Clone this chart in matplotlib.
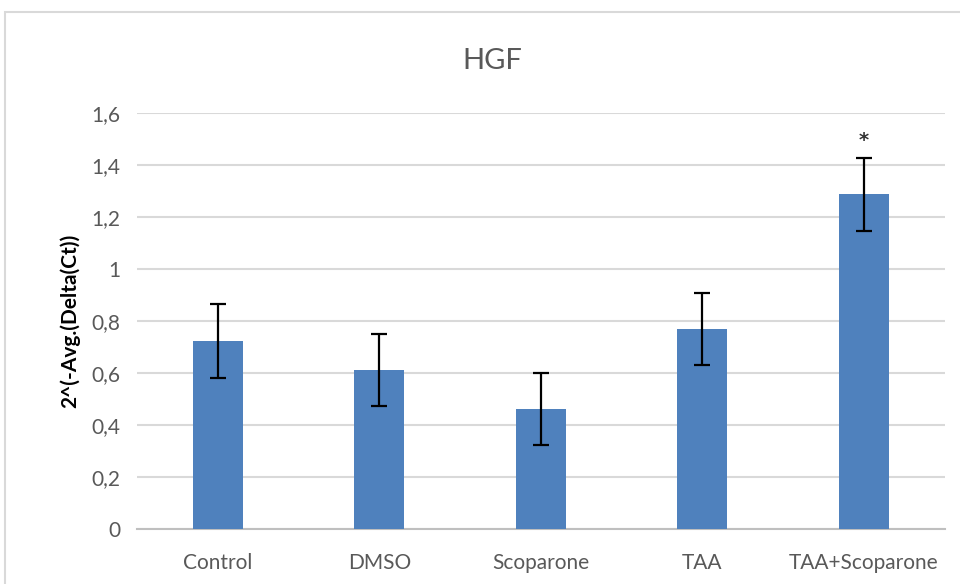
import matplotlib.pyplot as plt
from matplotlib.patches import Rectangle
from matplotlib.ticker import FuncFormatter

# data
categories = ["Control", "DMSO", "Scoparone", "TAA", "TAA+Scoparone"]
means = [0.723, 0.612, 0.462, 0.769, 1.287]
errors = [0.141, 0.139, 0.138, 0.139, 0.139]
significant = [False, False, False, False, True]
y_ticks = [0, 0.2, 0.4, 0.6, 0.8, 1.0, 1.2, 1.4, 1.6]

BAR_COLOR = "#4F81BD"
TEXT_COLOR = "#595959"
GRID_COLOR = "#D9D9D9"

plt.rcParams["font.family"] = ["Lato", "DejaVu Sans"]

fig = plt.figure(figsize=(9.6, 5.84), dpi=100)
ax = fig.add_axes([0.1427, 0.0942, 0.8413, 0.7123])

x = list(range(len(categories)))
ax.bar(x, means, width=0.31, color=BAR_COLOR, zorder=3)
ax.errorbar(x, means, yerr=errors, fmt="none", ecolor="black",
            elinewidth=1.6, capsize=6, capthick=1.6, zorder=4)

for xi, m, e, sig in zip(x, means, errors, significant):
    if sig:
        ax.text(xi, m + e + 0.07, "*", ha="center", va="center",
                fontsize=14, fontweight="bold", color="#333333",
                family="DejaVu Sans", zorder=5)

ax.set_xlim(-0.5, len(categories) - 0.5)
ax.set_ylim(0, 1.6)
ax.set_yticks(y_ticks)
ax.yaxis.set_major_formatter(
    FuncFormatter(lambda v, _: f"{v:g}".replace(".", ",")))
ax.set_xticks(x)
ax.set_xticklabels(categories)
ax.tick_params(axis="both", length=0, labelsize=15, colors=TEXT_COLOR)
ax.tick_params(axis="x", pad=17)
ax.tick_params(axis="y", pad=12)

ax.grid(axis="y", color=GRID_COLOR, linewidth=1.5, zorder=0)
for side in ["top", "right", "left"]:
    ax.spines[side].set_visible(False)
ax.spines["bottom"].set_color("#BFBFBF")
ax.spines["bottom"].set_linewidth(1.5)
ax.spines["bottom"].set_zorder(2)

ax.set_ylabel("2^(-Avg.(Delta(Ct))", fontsize=15, fontweight="bold",
              color="black", labelpad=8)
fig.text(0.513, 0.895, "HGF", ha="center", va="center", fontsize=21,
         color=TEXT_COLOR)

# chart area frame (cut off at right and bottom like the reference)
fig.patches.append(Rectangle((0.0055, -0.05), 1.1, 1.029,
                             transform=fig.transFigure, fill=False,
                             edgecolor=GRID_COLOR, linewidth=1.5))

fig.savefig("out.png", dpi=100)
